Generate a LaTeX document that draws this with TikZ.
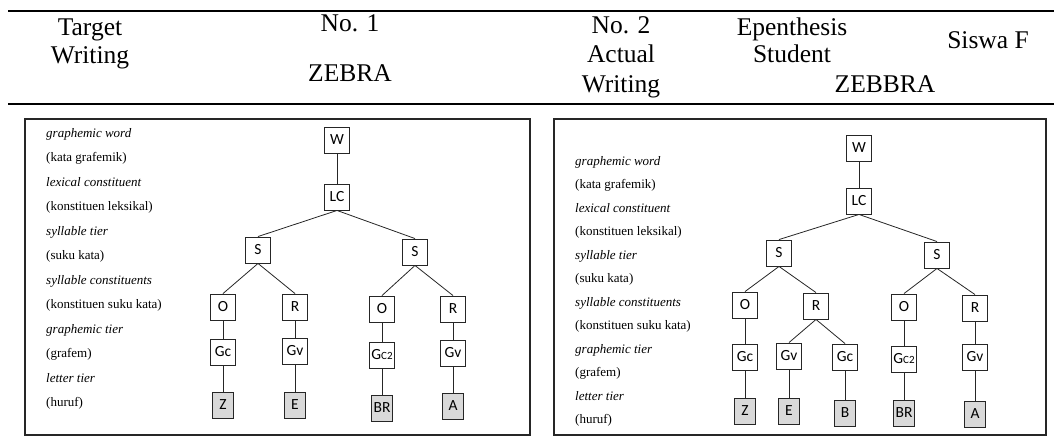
\documentclass[tikz,border=0pt]{standalone}
\usepackage{fontspec}
\setmainfont{Liberation Serif}
\newfontfamily\treefont{Carlito}
\begin{document}
\begin{tikzpicture}[x=1pt,y=-1pt,
  hdr/.style={font=\fontsize{25.5}{28}\selectfont, inner sep=0pt, anchor=base},
  lbl/.style={font=\fontsize{13}{15}\selectfont, inner sep=0pt, anchor=base west},
  tbox/.style={draw=black!85, line width=0.9pt, minimum width=25pt, minimum height=26pt, inner sep=1pt, font=\treefont\fontsize{15.5}{17}\selectfont, fill=white},
  lbox/.style={tbox, fill=black!15, minimum width=21pt},
  edge/.style={draw=black!85, line width=0.8pt},
  panel/.style={draw=black!85, line width=2.2pt},
  rulel/.style={draw=black, line width=2pt}]
\useasboundingbox (0,0) rectangle (1054,439);

% header rules
\coordinate (r1a) at (8,11); \coordinate (r1b) at (1054,11);
\coordinate (r2a) at (8,104); \coordinate (r2b) at (1054,104);
\draw[rulel] (r1a) -- (r1b);
\draw[rulel] (r2a) -- (r2b);

% header texts
\node[hdr] (h1) at (90,35) {Target};
\node[hdr] (h2) at (90,63) {Writing};
\node[hdr] (h3) at (350,31) {No. 1};
\node[hdr] (h4) at (350,81) {ZEBRA};
\node[hdr] (h5) at (621,33) {No. 2};
\node[hdr] (h6) at (621,62) {Actual};
\node[hdr] (h7) at (621,92) {Writing};
\node[hdr] (h8) at (792,35) {Epenthesis};
\node[hdr] (h9) at (792,62) {Student};
\node[hdr] (h10) at (988,48) {Siswa F};
\node[hdr] (h11) at (885,92) {ZEBBRA};

% panels
\coordinate (pla) at (25,119); \coordinate (plb) at (530,435);
\coordinate (pra) at (554,119); \coordinate (prb) at (1046,435);
\draw[panel] (pla) rectangle (plb);
\draw[panel] (pra) rectangle (prb);

% left labels
\node[lbl] (la1) at (46,137) {\itshape graphemic word};
\node[lbl] (la2) at (46,161.5) {(kata grafemik)};
\node[lbl] (la3) at (46,186) {\itshape lexical constituent};
\node[lbl] (la4) at (46,210.5) {(konstituen leksikal)};
\node[lbl] (la5) at (46,235) {\itshape syllable tier};
\node[lbl] (la6) at (46,259.5) {(suku kata)};
\node[lbl] (la7) at (46,284) {\itshape syllable constituents};
\node[lbl] (la8) at (46,308.5) {(konstituen suku kata)};
\node[lbl] (la9) at (46,333) {\itshape graphemic tier};
\node[lbl] (la10) at (46,357.5) {(grafem)};
\node[lbl] (la11) at (46,382) {\itshape letter tier};
\node[lbl] (la12) at (46,406.5) {(huruf)};

% right labels
\node[lbl] (ra1) at (575,165) {\itshape graphemic word};
\node[lbl] (ra2) at (575,188.5) {(kata grafemik)};
\node[lbl] (ra3) at (575,212) {\itshape lexical constituent};
\node[lbl] (ra4) at (575,235) {(konstituen leksikal)};
\node[lbl] (ra5) at (575,259) {\itshape syllable tier};
\node[lbl] (ra6) at (575,282) {(suku kata)};
\node[lbl] (ra7) at (575,306) {\itshape syllable constituents};
\node[lbl] (ra8) at (575,329) {(konstituen suku kata)};
\node[lbl] (ra9) at (575,353) {\itshape graphemic tier};
\node[lbl] (ra10) at (575,376) {(grafem)};
\node[lbl] (ra11) at (575,400) {\itshape letter tier};
\node[lbl] (ra12) at (575,423) {(huruf)};

% left tree
\node[tbox] (lW) at (337,140) {W};
\node[tbox] (lLC) at (337,197) {LC};
\node[tbox] (lS1) at (258,250) {S};
\node[tbox] (lS2) at (415,252) {S};
\node[tbox] (lO1) at (223,307) {O};
\node[tbox] (lR1) at (295,307) {R};
\node[tbox] (lO2) at (382,309) {O};
\node[tbox] (lR2) at (453,309) {R};
\node[tbox] (lG1) at (223,352) {Gc};
\node[tbox] (lG2) at (295,351) {Gv};
\node[tbox] (lG3) at (382,355) {G{\fontsize{11}{12}\selectfont C2}};
\node[tbox] (lG4) at (453,353) {Gv};
\node[lbox] (lL1) at (223,405) {Z};
\node[lbox] (lL2) at (295,405) {E};
\node[lbox] (lL3) at (382,408) {BR};
\node[lbox] (lL4) at (453,406) {A};
\draw[edge] (lW.south) -- (lLC.north);
\draw[edge] (lLC.south) -- (lS1.north);
\draw[edge] (lLC.south) -- (lS2.north);
\draw[edge] (lS1.south) -- (lO1.north);
\draw[edge] (lS1.south) -- (lR1.north);
\draw[edge] (lS2.south) -- (lO2.north);
\draw[edge] (lS2.south) -- (lR2.north);
\draw[edge] (lO1.south) -- (lG1.north);
\draw[edge] (lR1.south) -- (lG2.north);
\draw[edge] (lO2.south) -- (lG3.north);
\draw[edge] (lR2.south) -- (lG4.north);
\draw[edge] (lG1.south) -- (lL1.north);
\draw[edge] (lG2.south) -- (lL2.north);
\draw[edge] (lG3.south) -- (lL3.north);
\draw[edge] (lG4.south) -- (lL4.north);

% right tree
\node[tbox] (rW) at (859,148) {W};
\node[tbox] (rLC) at (859,201) {LC};
\node[tbox] (rS1) at (779,253) {S};
\node[tbox] (rS2) at (937,255) {S};
\node[tbox] (rO1) at (745,305) {O};
\node[tbox] (rR1) at (816,306) {R};
\node[tbox] (rO2) at (904,307) {O};
\node[tbox] (rR2) at (975,308) {R};
\node[tbox] (rG1) at (745,357) {Gc};
\node[tbox] (rG2) at (789,356) {Gv};
\node[tbox] (rG3) at (845,357) {Gc};
\node[tbox] (rG4) at (904,359) {G{\fontsize{11}{12}\selectfont C2}};
\node[tbox] (rG5) at (975,357) {Gv};
\node[lbox] (rL1) at (745,411) {Z};
\node[lbox] (rL2) at (789,411) {E};
\node[lbox] (rL3) at (845,413) {B};
\node[lbox] (rL4) at (904,413) {BR};
\node[lbox] (rL5) at (975,414) {A};
\draw[edge] (rW.south) -- (rLC.north);
\draw[edge] (rLC.south) -- (rS1.north);
\draw[edge] (rLC.south) -- (rS2.north);
\draw[edge] (rS1.south) -- (rO1.north);
\draw[edge] (rS1.south) -- (rR1.north);
\draw[edge] (rS2.south) -- (rO2.north);
\draw[edge] (rS2.south) -- (rR2.north);
\draw[edge] (rO1.south) -- (rG1.north);
\draw[edge] (rR1.south) -- (rG2.north);
\draw[edge] (rR1.south) -- (rG3.north);
\draw[edge] (rO2.south) -- (rG4.north);
\draw[edge] (rR2.south) -- (rG5.north);
\draw[edge] (rG1.south) -- (rL1.north);
\draw[edge] (rG2.south) -- (rL2.north);
\draw[edge] (rG3.south) -- (rL3.north);
\draw[edge] (rG4.south) -- (rL4.north);
\draw[edge] (rG5.south) -- (rL5.north);
\end{tikzpicture}
\end{document}
